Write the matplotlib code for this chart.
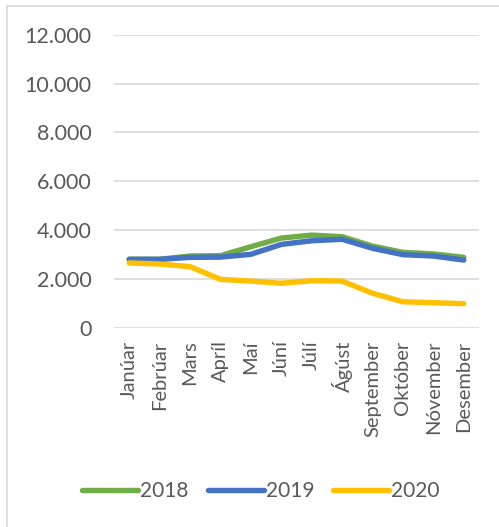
import matplotlib
matplotlib.use('Agg')
import matplotlib.pyplot as plt
from matplotlib.patches import Rectangle

months = ['Janúar', 'Febrúar', 'Mars', 'Apríl', 'Maí', 'Júní',
          'Júlí', 'Ágúst', 'September', 'Október', 'Nóvember', 'Desember']
y2018 = [2810, 2810, 2945, 2960, 3325, 3680, 3800, 3735, 3350, 3095, 3030, 2890]
y2019 = [2810, 2810, 2890, 2900, 3015, 3420, 3570, 3630, 3260, 3000, 2945, 2780]
y2020 = [2660, 2620, 2510, 1990, 1920, 1830, 1935, 1920, 1420, 1075, 1035, 995]
yticks = [0, 2000, 4000, 6000, 8000, 10000, 12000]
ytick_labels = ['0', '2.000', '4.000', '6.000', '8.000', '10.000', '12.000']

plt.rcParams['font.family'] = ['Lato', 'DejaVu Sans']
text_color = '#595959'

fig = plt.figure(figsize=(4.99, 5.27), dpi=100)
# chart frame (cut off on right and bottom like the screenshot)
fig.patches.append(Rectangle((7 / 499, -0.1), 1.2, 1 - 6 / 527 + 0.1,
                             transform=fig.transFigure, fill=False,
                             edgecolor='#D9D9D9', lw=1.2))

ax = fig.add_axes([114 / 499, 1 - 328 / 527, 365 / 499, (328 - 34.7) / 527])
x = range(len(months))
ax.plot(x, y2018, color='#70AD47', lw=3.9, solid_capstyle='round', solid_joinstyle='round', label='2018')
ax.plot(x, y2019, color='#4472C4', lw=3.9, solid_capstyle='round', solid_joinstyle='round', label='2019')
ax.plot(x, y2020, color='#FFC000', lw=3.9, solid_capstyle='round', solid_joinstyle='round', label='2020')

ax.set_xlim(-0.5, len(months) - 0.5)
ax.set_ylim(0, 12000)
ax.set_yticks(yticks)
ax.set_yticklabels(ytick_labels)
ax.set_xticks(list(x))
ax.set_xticklabels(months, rotation=90)
ax.tick_params(axis='y', length=0, pad=16, labelsize=15.5, labelcolor=text_color)
ax.tick_params(axis='x', length=0, pad=9, labelsize=14.5, labelcolor=text_color)
ax.grid(axis='y', color='#D9D9D9', lw=1.2)
ax.set_axisbelow(True)
for s in ax.spines.values():
    s.set_visible(False)

fig.legend(loc='center', bbox_to_anchor=(261 / 499, 1 - 491 / 527), ncol=3,
           frameon=False, fontsize=15, labelcolor=text_color,
           handlelength=2.7, handletextpad=0.1, columnspacing=0.9)

fig.savefig('out.png', dpi=100)
